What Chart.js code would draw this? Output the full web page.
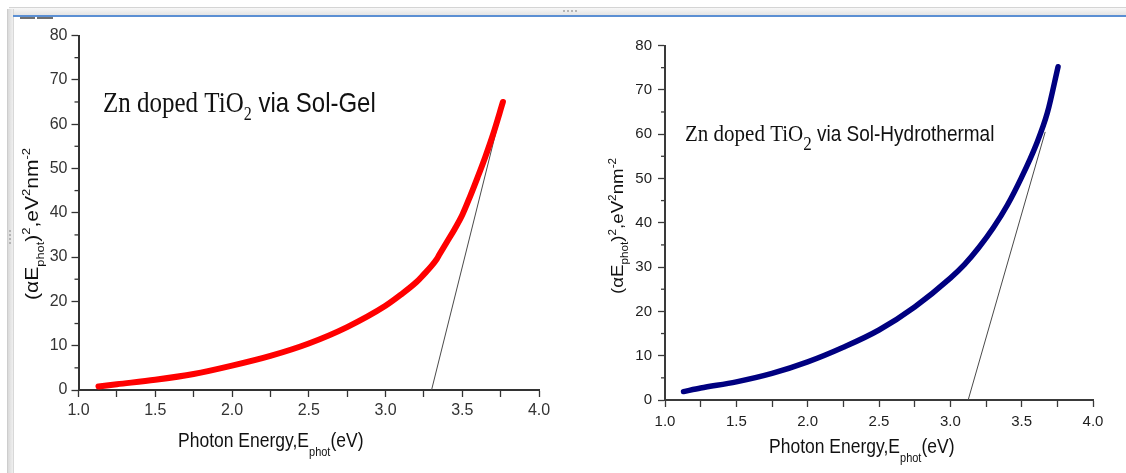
<!DOCTYPE html>
<html>
<head>
<meta charset="utf-8">
<script src="https://cdn.jsdelivr.net/npm/chart.js@4.4.1/dist/chart.umd.min.js"></script>
<style>
  html, body { margin: 0; padding: 0; background: #fff; width: 1126px; height: 473px; overflow: hidden; position: relative; }
  .frame-top { position: absolute; left: 9px; top: 7px; width: 1117px; height: 7px; background: linear-gradient(#f7f7f7, #e4e4e4); border-top: 1px solid #d4d4d4; }
  .frame-line { position: absolute; left: 13px; top: 15px; width: 1113px; height: 2px; background: #5b8fd3; }
  .frame-left { position: absolute; left: 7px; top: 9px; width: 5px; height: 464px; background: linear-gradient(90deg, #dadada, #efefef); border-left: 1px solid #cdcdcd; border-right: 1px solid #d8d8d8; }
  .tab { position: absolute; top: 17px; height: 2px; background: #6f6f6f; }
  .grip-h { position: absolute; left: 563px; top: 10px; width: 14px; height: 0; border-top: 2px dotted #b5b5b5; }
  .grip-v { position: absolute; left: 9px; top: 230px; width: 0; height: 14px; border-left: 2px dotted #b5b5b5; }
  canvas { position: absolute; left: 0; top: 0; }
</style>
</head>
<body>
<div class="frame-top"></div>
<div class="frame-left"></div>
<div class="frame-line"></div>
<div class="tab" style="left:20px;width:15px"></div>
<div class="tab" style="left:37px;width:16px"></div>
<div class="grip-h"></div>
<div class="grip-v"></div>
<canvas id="solGel" width="1126" height="473"></canvas>
<canvas id="solHydro" width="1126" height="473"></canvas>
<script>
// Tauc plot data: photon energy (eV) and (alpha*E)^2
const energySolGel = [1.13, 1.25, 1.5, 1.75, 2.0, 2.25, 2.5, 2.75, 3.0, 3.1, 3.2, 3.25, 3.3, 3.335, 3.35, 3.4, 3.45, 3.5, 3.55, 3.6, 3.65, 3.7, 3.765];
const alphaSolGel  = [0.8, 1.3, 2.3, 3.6, 5.5, 7.7, 10.5, 14.2, 19.0, 21.5, 24.3, 26.1, 28.0, 29.6, 30.5, 33.4, 36.3, 39.5, 43.6, 48.0, 52.6, 57.6, 65.0];

const energyHydro = [1.13, 1.25, 1.5, 1.75, 2.0, 2.25, 2.5, 2.75, 3.0, 3.1, 3.2, 3.3, 3.4, 3.5, 3.6, 3.68, 3.755];
const alphaHydro  = [1.9, 2.7, 4.1, 6.0, 8.6, 11.9, 15.8, 21.0, 27.5, 30.6, 34.4, 38.8, 44.0, 50.3, 57.5, 64.8, 75.2];

// Band-gap extrapolation lines (two end points each)
const tangentSolGelE = [3.30, 3.765];
const tangentSolGelA = [0, 64.5];
const tangentHydroE  = [3.125, 3.665];
const tangentHydroA  = [0, 60.5];

// Axis ranges and tick steps
const energyRange = [1.0, 4.0];
const alphaRange  = [0, 80];
const energyMajorStep = 0.5;
const energyMinorStep = 0.25;
const alphaMajorStep = 10;
const alphaMinorStep = 5;

const SANS = '"Liberation Sans", Arial, sans-serif';
const SERIF = '"Liberation Serif", "Times New Roman", serif';

function pairs(xs, ys) { return xs.map((x, i) => ({ x: x, y: ys[i] })); }

// Draws a run of text segments (sub/superscripts) with optional rotation and stretch
function drawRich(ctx, segs, x, y, o) {
  ctx.save();
  ctx.translate(x, y);
  if (o.rotate) ctx.rotate(o.rotate);
  ctx.scale(o.sx || 1, o.sy || 1);
  ctx.fillStyle = o.color || '#111';
  ctx.textBaseline = 'alphabetic';
  ctx.textAlign = 'left';
  let total = 0;
  segs.forEach(s => { ctx.font = s.font; s.w = ctx.measureText(s.t).width; total += s.w; });
  let cx = o.align === 'center' ? -total / 2 : 0;
  segs.forEach(s => {
    ctx.font = s.font;
    ctx.fillText(s.t, cx, s.dy || 0);
    cx += s.w;
  });
  ctx.restore();
}

// Short minor tick marks on the y axis
const minorTicks = {
  id: 'minorTicks',
  afterDraw(chart, args, opts) {
    const ctx = chart.ctx, y = chart.scales.y, left = y.right;
    ctx.save();
    ctx.strokeStyle = opts.color;
    ctx.lineWidth = 1.3;
    for (let v = alphaRange[0] + alphaMinorStep; v < alphaRange[1]; v += alphaMajorStep) {
      const py = y.getPixelForValue(v);
      ctx.beginPath();
      ctx.moveTo(left - 4, py);
      ctx.lineTo(left, py);
      ctx.stroke();
    }
    ctx.restore();
  }
};

// Axis titles and sample caption
const captions = {
  id: 'captions',
  afterDraw(chart, args, opts) {
    const ctx = chart.ctx;
    opts.items.forEach(it => drawRich(ctx, it.segs, it.x, it.y, it));
  }
};

function makeChart(id, cfg) {
  return new Chart(document.getElementById(id), {
    type: 'line',
    data: {
      datasets: [
        {
          data: pairs(cfg.energy, cfg.alpha),
          borderColor: cfg.color,
          backgroundColor: cfg.color,
          borderWidth: cfg.lineWidth,
          pointRadius: 0,
          cubicInterpolationMode: 'monotone',
          borderCapStyle: 'round',
          borderJoinStyle: 'round',
          order: 1
        },
        {
          data: pairs(cfg.tanE, cfg.tanA),
          borderColor: '#4a4a4a',
          borderWidth: 1,
          pointRadius: 0,
          tension: 0,
          order: 2
        }
      ]
    },
    options: {
      responsive: false,
      devicePixelRatio: 1,
      animation: false,
      events: [],
      layout: { padding: cfg.padding },
      plugins: {
        legend: { display: false },
        tooltip: { enabled: false },
        minorTicks: { color: cfg.axisColor },
        captions: { items: cfg.captions }
      },
      scales: {
        x: {
          type: 'linear',
          min: energyRange[0],
          max: energyRange[1],
          afterFit: s => { s.height = cfg.xHeight; },
          afterBuildTicks: s => {
            const t = [];
            for (let v = energyRange[0]; v <= energyRange[1] + 1e-9; v += energyMinorStep) t.push({ value: +v.toFixed(2) });
            s.ticks = t;
          },
          ticks: {
            autoSkip: false,
            maxRotation: 0,
            padding: cfg.xPad,
            color: cfg.tickColor,
            font: { family: SANS, size: cfg.tickSize },
            callback: v => (Math.abs(v / energyMajorStep - Math.round(v / energyMajorStep)) < 1e-6 ? v.toFixed(1) : '')
          },
          grid: { drawOnChartArea: false, drawTicks: true, tickLength: 7, tickColor: cfg.axisColor, tickWidth: 1.3 },
          border: { display: true, color: cfg.axisColor, width: 2 }
        },
        y: {
          type: 'linear',
          min: alphaRange[0],
          max: alphaRange[1],
          afterFit: s => { s.width = 60; },
          ticks: {
            stepSize: alphaMajorStep,
            padding: cfg.yPad,
            color: cfg.tickColor,
            font: { family: SANS, size: cfg.tickSize }
          },
          grid: { drawOnChartArea: false, drawTicks: true, tickLength: 7, tickColor: cfg.axisColor, tickWidth: 1.3 },
          border: { display: true, color: cfg.axisColor, width: 2 }
        }
      }
    },
    plugins: [minorTicks, captions]
  });
}

function axisTitleX(x, y, size, subDy) {
  return {
    x: x, y: y, sy: 1.17, color: '#111',
    segs: [
      { t: 'Photon Energy,E', font: size + 'px ' + SANS },
      { t: 'phot', font: Math.round(size * 0.6) + 'px ' + SANS, dy: subDy },
      { t: '(eV)', font: size + 'px ' + SANS }
    ]
  };
}

function axisTitleY(x, y, size, k) {
  const small = Math.round(size * 0.6) + 'px ' + SANS, big = size + 'px ' + SANS;
  return {
    x: x, y: y, rotate: -Math.PI / 2, sx: k, align: 'center', color: '#111',
    segs: [
      { t: '(\u03B1E', font: big },
      { t: 'phot', font: small, dy: size * 0.33 },
      { t: ')', font: big },
      { t: '2', font: small, dy: -size * 0.45 },
      { t: ',eV', font: big },
      { t: '2', font: small, dy: -size * 0.45 },
      { t: 'nm', font: big },
      { t: '-2', font: small, dy: -size * 0.45 }
    ]
  };
}

makeChart('solGel', {
  energy: energySolGel, alpha: alphaSolGel,
  tanE: tangentSolGelE, tanA: tangentSolGelA,
  color: '#ff0000', lineWidth: 6,
  axisColor: '#333', tickColor: '#333', tickSize: 16,
  padding: { left: 18.5, right: 587, top: 35.5, bottom: 0 },
  xHeight: 83, xPad: 4, yPad: 4,
  captions: [
    {
      x: 103, y: 112, sy: 1.17, color: '#111',
      segs: [
        { t: 'Zn doped TiO', font: '25px ' + SERIF },
        { t: '2', font: '16px ' + SERIF, dy: 7 },
        { t: ' via Sol-Gel', font: '24px ' + SANS }
      ]
    },
    axisTitleX(178, 447, 17.5, 8),
    axisTitleY(38, 224, 18, 1.17)
  ]
});

makeChart('solHydro', {
  energy: energyHydro, alpha: alphaHydro,
  tanE: tangentHydroE, tanA: tangentHydroA,
  color: '#000080', lineWidth: 5.5,
  axisColor: '#3a3a3a', tickColor: '#1e1e1e', tickSize: 15,
  padding: { left: 605, right: 33, top: 45.5, bottom: 0 },
  xHeight: 73, xPad: 6, yPad: 6,
  captions: [
    {
      x: 685, y: 141, sy: 1.12, color: '#111',
      segs: [
        { t: 'Zn doped TiO', font: '21px ' + SERIF },
        { t: '2', font: '17px ' + SERIF, dy: 8 },
        { t: ' via Sol-Hydrothermal', font: '19px ' + SANS }
      ]
    },
    axisTitleX(769, 453, 17.5, 8),
    axisTitleY(623, 226, 16, 1.17)
  ]
});
</script>
</body>
</html>
